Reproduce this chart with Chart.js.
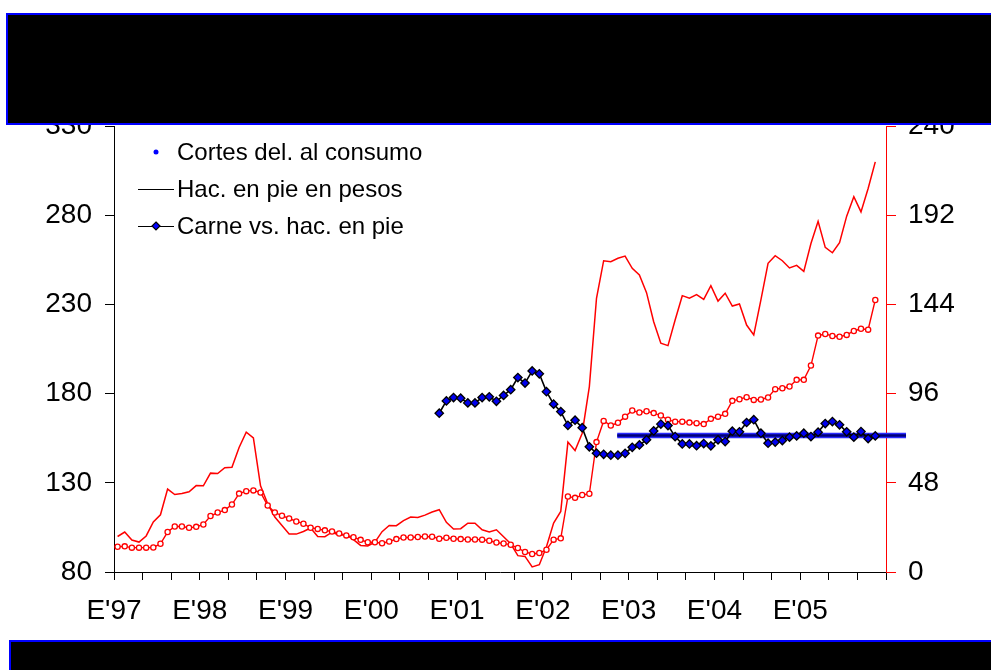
<!DOCTYPE html>
<html lang="es">
<head>
<meta charset="utf-8">
<script src="https://cdn.jsdelivr.net/npm/chart.js@4.4.1/dist/chart.umd.min.js"></script>
<style>
  html, body { margin: 0; padding: 0; background: #fff; }
  #marco { position: relative; width: 991px; height: 670px; overflow: hidden; }
  #grafico { position: absolute; left: 0; top: 0; }
  .banda { position: absolute; background: #000; border: 2px solid #0000ff; box-sizing: border-box; }
  #bandaSup { left: 6px; top: 13px; width: 1000px; height: 112px; }
  #bandaInf { left: 9px; top: 640px; width: 1000px; height: 40px; }
</style>
</head>
<body>
<div id="marco">
  <canvas id="grafico" width="991" height="670"></canvas>
  <div class="banda" id="bandaSup"></div>
  <div class="banda" id="bandaInf"></div>
</div>
<script>
// Datos mensuales desde enero 1997
const etiquetasAnios = ["E'97", "E'98", "E'99", "E'00", "E'01", "E'02", "E'03", "E'04", "E'05"];
const textosLeyenda = ['Cortes del. al consumo', 'Hac. en pie en pesos', 'Carne vs. hac. en pie'];

// Hacienda en pie en pesos (eje derecho)
const haciendaPesos = [
  19.1, 21.5, 17.2, 16.1, 19.4, 26.9, 30.8, 44.6, 41.7, 42.2,
  43.2, 46.5, 46.4, 53.2, 53.0, 56.1, 56.4, 67.0, 75.3, 72.2,
  46.4, 36.7, 29.6, 25.0, 20.4, 20.4, 21.8, 23.7, 19.1, 19.0,
  21.4, 19.8, 20.0, 17.4, 14.3, 14.0, 16.1, 21.7, 25.0, 24.9,
  27.7, 29.6, 29.3, 30.6, 32.3, 33.5, 26.7, 23.1, 23.3, 26.3,
  26.3, 22.7, 21.5, 22.7, 19.0, 15.2, 8.8, 8.4, 2.7, 3.9,
  13.6, 26.3, 32.6, 69.9, 65.4, 74.7, 99.8, 147.3, 167.5, 167.0,
  168.8, 170.0, 163.4, 159.8, 150.3, 134.7, 123.1, 121.8, 135.6, 148.7,
  147.3, 149.3, 146.7, 154.1, 145.8, 150.0, 143.1, 144.2, 132.9, 127.6,
  146.4, 166.1, 170.2, 167.5, 163.6, 165.0, 161.8, 176.8, 188.7, 174.7,
  171.8, 177.2, 191.5, 201.9, 193.8, 206.4, 220.7
];

// Cortes delanteros al consumo (eje derecho)
const cortesConsumo = [
  13.6, 13.8, 13.1, 13.1, 13.1, 13.2, 15.2, 21.5, 24.5, 24.5,
  23.8, 24.3, 25.6, 30.1, 32.0, 33.3, 36.3, 42.2, 43.5, 43.9,
  42.8, 35.8, 32.0, 30.3, 28.8, 27.2, 26.0, 23.8, 23.2, 22.4,
  21.8, 20.7, 19.7, 18.7, 17.3, 16.0, 16.0, 15.5, 16.4, 17.7,
  18.6, 18.6, 18.8, 19.1, 19.0, 17.9, 18.4, 17.9, 17.7, 17.5,
  17.5, 17.4, 16.8, 15.9, 15.3, 14.7, 12.9, 10.8, 9.7, 10.2,
  12.0, 17.4, 18.1, 40.6, 39.9, 41.4, 42.1, 69.9, 81.3, 78.8,
  80.3, 83.6, 86.9, 85.8, 86.5, 85.5, 84.2, 81.9, 80.9, 80.9,
  80.4, 80.1, 79.6, 82.4, 83.6, 85.1, 92.1, 93.0, 94.1, 92.6,
  92.8, 93.9, 98.4, 98.9, 99.8, 103.4, 103.4, 111.1, 127.2, 128.1,
  127.0, 126.6, 127.6, 129.7, 130.9, 130.4, 146.4
];

// Carne vs. hacienda en pie (eje izquierdo), empieza en octubre 2000
const carneDesdeMes = 45;
const carneVsHacienda = [
  169.0, 175.9, 177.8, 177.4, 174.8, 174.8, 177.8, 178.2, 175.7, 179.0,
  182.2, 189.0, 185.9, 192.7, 191.1, 181.1, 174.1, 169.9, 162.2, 165.1,
  160.9, 150.2, 146.6, 146.0, 145.5, 145.5, 146.5, 149.9, 151.2, 154.1,
  159.1, 162.9, 162.1, 155.9, 151.8, 151.8, 150.8, 152.0, 150.7, 154.1,
  153.1, 158.9, 158.6, 163.8, 165.4, 157.8, 152.2, 152.8, 153.7, 155.6,
  156.3, 157.8, 155.9, 158.4, 163.2, 164.3, 162.5, 158.6, 155.6, 158.7,
  154.8, 156.3
];

// Promedio de la relación (línea azul gruesa)
const promedioCarne = 156.5;
const promedioDesde = 70.4;
const promedioHasta = 110.8;

const fuente = '"Liberation Sans", Arial, sans-serif';
const aPuntos = (serie, desde = 0) => serie.map((v, i) => ({ x: desde + i + 0.5, y: v }));
const lineaPromedio = [
  { x: promedioDesde, y: promedioCarne },
  { x: promedioHasta, y: promedioCarne }
];

// Leyenda dibujada a mano (los símbolos no coinciden con los colores, como en el original)
const leyendaManual = {
  id: 'leyendaManual',
  afterDraw(chart) {
    const ctx = chart.ctx;
    const filas = [152, 189, 226];
    ctx.save();
    ctx.font = '24px ' + fuente;
    ctx.textBaseline = 'middle';
    ctx.fillStyle = '#000';
    textosLeyenda.forEach((t, k) => ctx.fillText(t, 177, filas[k] + 1));

    ctx.fillStyle = '#0000ff';
    ctx.beginPath();
    ctx.arc(156, filas[0], 2.5, 0, Math.PI * 2);
    ctx.fill();

    ctx.strokeStyle = '#000';
    ctx.lineWidth = 1.2;
    [1, 2].forEach(k => {
      ctx.beginPath();
      ctx.moveTo(138, filas[k] + 0.5);
      ctx.lineTo(174, filas[k] + 0.5);
      ctx.stroke();
    });
    ctx.beginPath();
    ctx.moveTo(156, filas[2] - 4);
    ctx.lineTo(160, filas[2]);
    ctx.lineTo(156, filas[2] + 4);
    ctx.lineTo(152, filas[2]);
    ctx.closePath();
    ctx.fillStyle = '#0000ff';
    ctx.fill();
    ctx.stroke();
    ctx.restore();
  }
};

new Chart(document.getElementById('grafico'), {
  type: 'line',
  data: {
    datasets: [
      {
        label: textosLeyenda[2],
        data: aPuntos(carneVsHacienda, carneDesdeMes),
        yAxisID: 'y',
        borderColor: '#000',
        borderWidth: 1.6,
        pointStyle: 'rectRot',
        pointRadius: 4.2,
        pointBackgroundColor: '#0000ee',
        pointBorderColor: '#000',
        pointBorderWidth: 1.3,
        order: 0
      },
      {
        label: 'promedio',
        data: lineaPromedio,
        yAxisID: 'y',
        borderColor: '#00007a',
        borderWidth: 2.5,
        pointRadius: 0,
        clip: false,
        order: 1
      },
      {
        label: 'promedio borde',
        data: lineaPromedio,
        yAxisID: 'y',
        borderColor: '#2b2bff',
        borderWidth: 5.5,
        pointRadius: 0,
        clip: false,
        order: 2
      },
      {
        label: textosLeyenda[0],
        data: aPuntos(cortesConsumo),
        yAxisID: 'y2',
        borderColor: '#ff0000',
        borderWidth: 1.4,
        pointStyle: 'circle',
        pointRadius: 2.6,
        pointBackgroundColor: '#fff',
        pointBorderColor: '#ff0000',
        pointBorderWidth: 1.3,
        order: 3
      },
      {
        label: textosLeyenda[1],
        data: aPuntos(haciendaPesos),
        yAxisID: 'y2',
        borderColor: '#ff0000',
        borderWidth: 1.5,
        pointRadius: 0,
        order: 4
      }
    ]
  },
  options: {
    responsive: false,
    animation: false,
    devicePixelRatio: 1,
    layout: { padding: { top: 126, left: 0, right: 0, bottom: 0 } },
    plugins: { legend: { display: false }, tooltip: { enabled: false } },
    elements: { line: { tension: 0 } },
    scales: {
      x: {
        type: 'linear',
        min: 0,
        max: 108,
        border: { color: '#000', width: 1 },
        grid: { drawOnChartArea: false, color: '#000', tickLength: 8 },
        ticks: {
          stepSize: 4,
          autoSkip: false,
          maxRotation: 0,
          color: '#000',
          padding: 14,
          font: { family: fuente, size: 28 },
          callback: v => (v % 12 === 0 && v / 12 < etiquetasAnios.length) ? etiquetasAnios[v / 12] : ''
        },
        afterFit: s => { s.height = 98; }
      },
      y: {
        position: 'left',
        min: 80,
        max: 330,
        border: { color: '#000', width: 1 },
        grid: { drawOnChartArea: false, color: '#000', tickLength: 9 },
        ticks: { stepSize: 50, color: '#000', padding: 13, font: { family: fuente, size: 28 } },
        afterFit: s => { s.width = 114; }
      },
      y2: {
        position: 'right',
        min: 0,
        max: 240,
        border: { color: '#ff0000', width: 1 },
        grid: { drawOnChartArea: false, color: '#ff0000', tickLength: 10 },
        ticks: { stepSize: 48, color: '#000', padding: 12, font: { family: fuente, size: 28 } },
        afterFit: s => { s.width = 105; }
      }
    }
  },
  plugins: [leyendaManual]
});
</script>
</body>
</html>
